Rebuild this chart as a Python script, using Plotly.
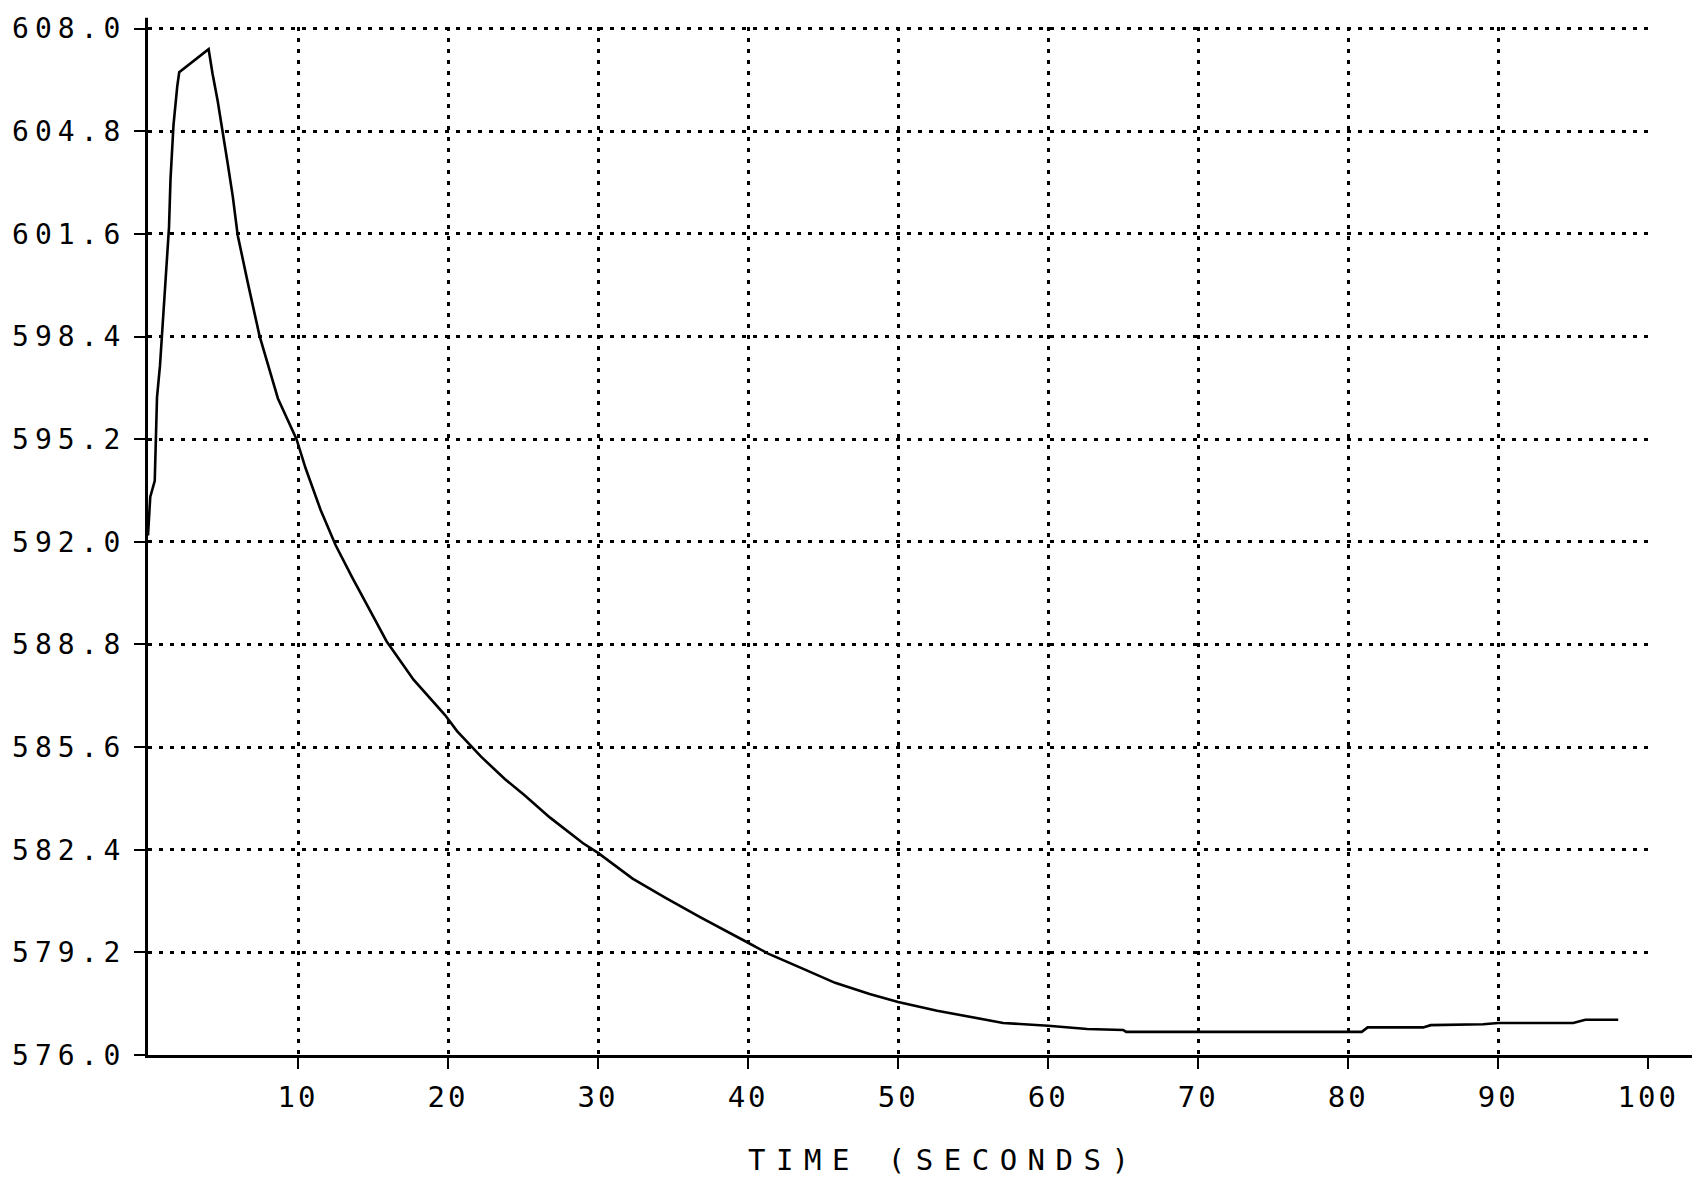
import plotly.graph_objects as go

# ---- data ----
time_s = [0.0, 0.15, 0.45, 0.6, 0.8, 1.0, 1.25, 1.4, 1.5, 1.7, 1.95, 2.08,
          4.04, 4.3, 4.64, 4.98, 5.31, 5.65, 5.98, 6.65, 7.43, 8.66, 9.9,
          10.5, 11.5, 12.5, 13.6, 15.1, 15.9, 17.7, 19.8, 20.6, 22.2, 23.8,
          25.1, 26.8, 29.0, 30.0, 32.3, 34.5, 36.8, 40.0, 41.3, 43.6, 45.8,
          48.1, 50.0, 52.6, 54.8, 57.0, 60.0, 62.6, 65.0, 65.2, 70.0, 80.0,
          80.9, 81.3, 85.0, 85.5, 89.0, 90.0, 95.0, 95.8, 98.0]
temperature = [592.2, 593.4, 593.9, 596.5, 597.5, 599.0, 600.5, 601.8, 603.3,
               605.0, 606.2, 606.64, 607.36, 606.6, 605.76, 604.83, 603.8,
               602.77, 601.56, 600.08, 598.43, 596.47, 595.2, 594.3, 593.0,
               591.9, 590.9, 589.6, 588.9, 587.7, 586.6, 586.1, 585.3, 584.6,
               584.1, 583.4, 582.6, 582.3, 581.5, 580.9, 580.3, 579.5, 579.17,
               578.7, 578.25, 577.9, 577.65, 577.38, 577.2, 577.0, 576.91,
               576.81, 576.78, 576.72, 576.72, 576.72, 576.72, 576.86, 576.86,
               576.93, 576.96, 577.0, 577.0, 577.1, 577.1]

x_ticks = [10, 20, 30, 40, 50, 60, 70, 80, 90, 100]
y_ticks = [576.0, 579.2, 582.4, 585.6, 588.8, 592.0, 595.2, 598.4, 601.6, 604.8, 608.0]
x_title = "TIME (SECONDS)"

FONT = "DejaVu Sans Mono"


def spaced(s, px):
    return f'<span style="letter-spacing:{px}px">{s}</span>'


fig = go.Figure()
fig.add_trace(go.Scatter(
    x=time_s, y=temperature, mode="lines",
    line=dict(color="black", width=2.6),
    hoverinfo="skip",
))

fig.update_layout(
    width=1692, height=1182,
    margin=dict(l=144, r=43, t=24, b=127),
    paper_bgcolor="white", plot_bgcolor="white",
    showlegend=False,
)

grid_common = dict(
    showgrid=True, gridcolor="black", gridwidth=2.5, griddash="4px,7px",
    zeroline=False, showline=True, linecolor="black", linewidth=3,
    ticks="outside", tickwidth=2, tickcolor="black",
)

fig.update_xaxes(
    range=[0, 100.05],
    tickvals=x_ticks,
    ticktext=[spaced(str(v), 3) for v in x_ticks],
    ticklen=11,
    ticklabelstandoff=3,
    tickfont=dict(family=FONT, size=29, color="black"),
    **grid_common,
)
fig.update_yaxes(
    range=[576, 608.05],
    tickvals=y_ticks,
    ticktext=[spaced(f"{v:.1f}", 6) for v in y_ticks],
    ticklen=11,
    ticklabelstandoff=2,
    tickfont=dict(family=FONT, size=28, color="black"),
    **grid_common,
)

# x axis line continues to the right edge, y axis line slightly above top
fig.add_shape(type="line", xref="paper", yref="paper", x0=0.99, x1=1.03,
              y0=-0.00145, y1=-0.00145,
              line=dict(color="black", width=3), layer="above")
fig.add_shape(type="line", xref="paper", yref="paper", x0=-0.001, x1=-0.001,
              y0=0.99, y1=1.009,
              line=dict(color="black", width=3), layer="above")

fig.add_annotation(
    text=spaced(x_title, 10.5), xref="paper", yref="paper",
    x=0.53, y=-0.102, xanchor="center", yanchor="middle", showarrow=False,
    font=dict(family=FONT, size=29, color="black"),
)

fig.write_html("out.html")
